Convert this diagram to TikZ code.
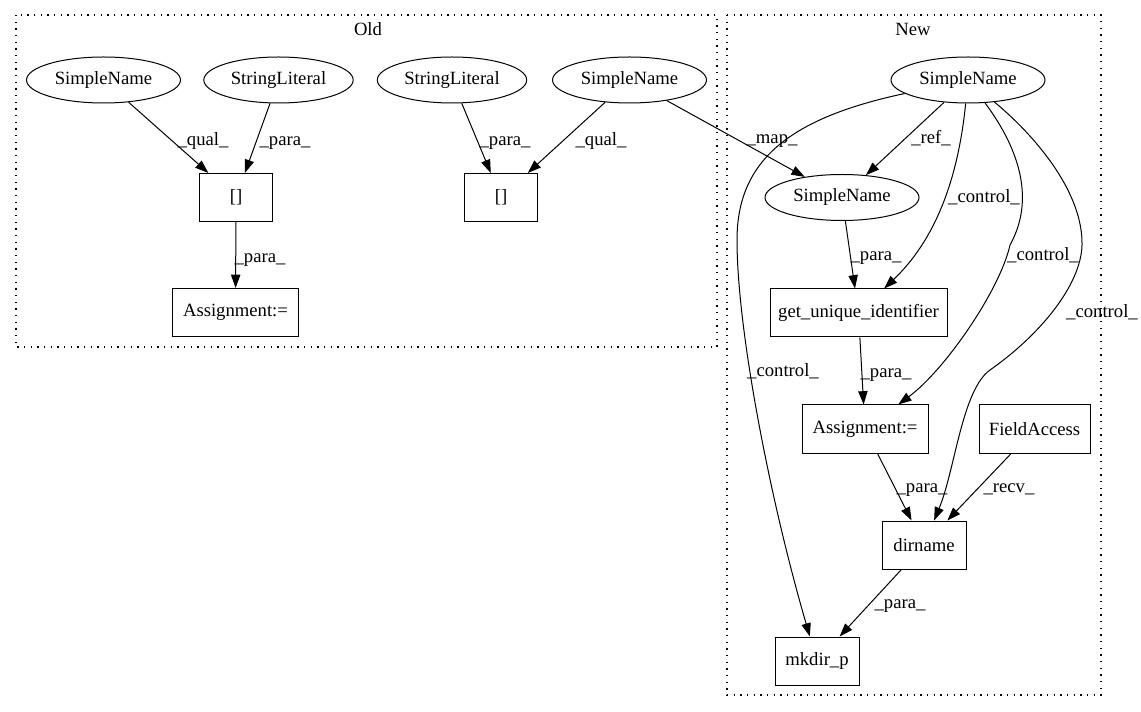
\documentclass[tikz,border=0pt]{standalone}
\usepackage{fontspec}
\setmainfont{Liberation Serif}
\usetikzlibrary{shapes.geometric,arrows.meta,calc}
\begin{document}
\begin{tikzpicture}[x=0.75pt,y=-0.75pt,
  font=\fontsize{14}{16}\selectfont,
  every node/.style={inner sep=0pt},
  ell/.style={draw,line width=0.75pt,ellipse,minimum width=115.5pt,minimum height=34.5pt},
  rbox/.style={draw,line width=0.75pt,rectangle,minimum height=36pt},
  elbl/.style={anchor=base},
  conn/.style={draw,line width=0.75pt,-{Triangle[length=10pt,width=7pt]}},
  clus/.style={draw,line width=0.9pt,dash pattern=on 1pt off 4pt}]
\useasboundingbox (0,0) rectangle (1141,712);
% clusters
\draw[clus] (16,15) rectangle (717,347);
\draw[clus] (727,15) rectangle (1101,695);
\node[anchor=base] (tOld) at (368,36) {Old};
\node[anchor=base] (tNew) at (913,36) {New};
% Old nodes
\node[ell] (oSN1) at (103.5,80) {SimpleName};
\node[ell,minimum width=112pt] (oSL1) at (278.5,80) {StringLiteral};
\node[ell,minimum width=112pt] (oSL2) at (452,80) {StringLiteral};
\node[ell] (oSN2) at (629.5,80) {SimpleName};
\node[rbox,minimum width=54.5pt] (oB1) at (236,197.5) {[]};
\node[rbox,minimum width=54.5pt] (oB2) at (501,197.5) {[]};
\node[rbox,minimum width=95pt] (oAsg) at (235.5,312.5) {Assignment:=};
% New nodes
\node[ell] (nSNA) at (968,80) {SimpleName};
\node[ell] (nSNB) at (842,197.5) {SimpleName};
\node[rbox,minimum width=132.75pt] (nGui) at (858.5,313) {get\_unique\_identifier};
\node[rbox,minimum width=94.5pt] (nAsg) at (865,429) {Assignment:=};
\node[rbox,minimum width=83.25pt] (nFA) at (1034.5,429) {FieldAccess};
\node[rbox,minimum width=63pt] (nDir) at (924,545) {dirname};
\node[rbox,minimum width=63pt] (nMk) at (817,661) {mkdir\_p};
% straight edges
\draw[conn] (oSN1) -- (oB1);
\draw[conn] (oSL1) -- (oB1);
\draw[conn] (oB1) -- (oAsg);
\draw[conn] (oSL2) -- (oB2);
\draw[conn] (oSN2) -- (oB2);
\draw[conn] (oSN2) -- (nSNB);
\draw[conn] (nSNA) -- (nSNB);
\draw[conn] (nSNB) -- (nGui);
\draw[conn] (nGui) -- (nAsg);
\draw[conn] (nAsg) -- (nDir);
\draw[conn] (nFA) -- (nDir);
\draw[conn] (nDir) -- (nMk);
% curved control edges
\draw[conn] (nSNA) .. controls (958,180) and (935,240) .. (nGui);
\draw[conn] (nSNA) .. controls (1020,150) and (1035,200) .. (1010,245)
  .. controls (1000,290) and (945,370) .. (nAsg);
\draw[conn] (nSNA) .. controls (1040,140) and (1083,195) .. (1082,245)
  .. controls (1081,285) and (1040,335) .. (990,370)
  .. controls (962,390) and (955,470) .. (nDir);
\draw[conn] (nSNA) .. controls (790,118) and (737,160) .. (737,240)
  .. controls (737,330) and (770,500) .. (nMk);
% edge labels
\node[elbl] (l1) at (203,145.5) {\_qual\_};
\node[elbl] (l2) at (285,145.5) {\_para\_};
\node[elbl] (l3) at (260,262.5) {\_para\_};
\node[elbl] (l4) at (505,145.5) {\_para\_};
\node[elbl] (l5) at (601,145.5) {\_qual\_};
\node[elbl] (l6) at (772,143.5) {\_map\_};
\node[elbl] (l7) at (931,143.5) {\_ref\_};
\node[elbl] (l8) at (984,202.5) {\_control\_};
\node[elbl] (l9) at (876,260.5) {\_para\_};
\node[elbl] (l10) at (1043,260.5) {\_control\_};
\node[elbl] (l11) at (1102,317.5) {\_control\_};
\node[elbl] (l12) at (783,376.5) {\_control\_};
\node[elbl] (l13) at (886,377.5) {\_para\_};
\node[elbl] (l14) at (922,492.5) {\_para\_};
\node[elbl] (l15) at (1009,492.5) {\_recv\_};
\node[elbl] (l16) at (900,608.5) {\_para\_};
\end{tikzpicture}
\end{document}
